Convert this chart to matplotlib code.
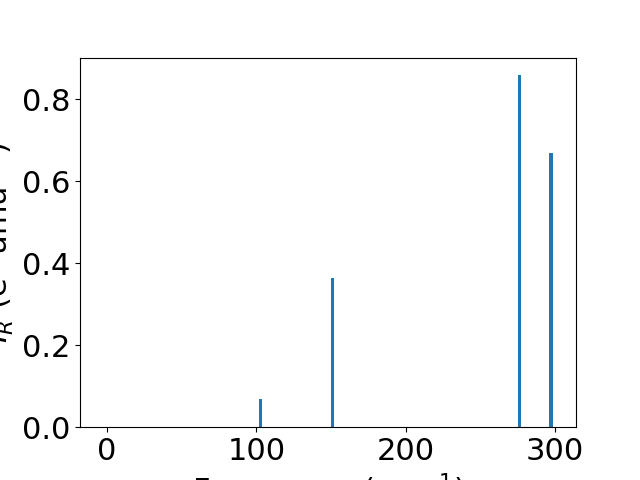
import matplotlib
matplotlib.use('Agg')
import matplotlib.pyplot as plt

freqs = [0.0, 102.9, 151.0, 276.1, 297.5]
intensities = [0.0, 0.068, 0.364, 0.859, 0.668]

plt.rcParams['font.size'] = 22
fig, ax = plt.subplots(figsize=(6.4, 4.8), dpi=100)
ax.bar(freqs, intensities, width=2.5, color='#1f77b4')
ax.set_xlim(-18, 314)
ax.set_xlabel('Frequency (cm$^{-1}$)')
ax.set_ylabel('$I_R$ (e$^2$ amu$^{-1}$)')
fig.savefig('out.png')
